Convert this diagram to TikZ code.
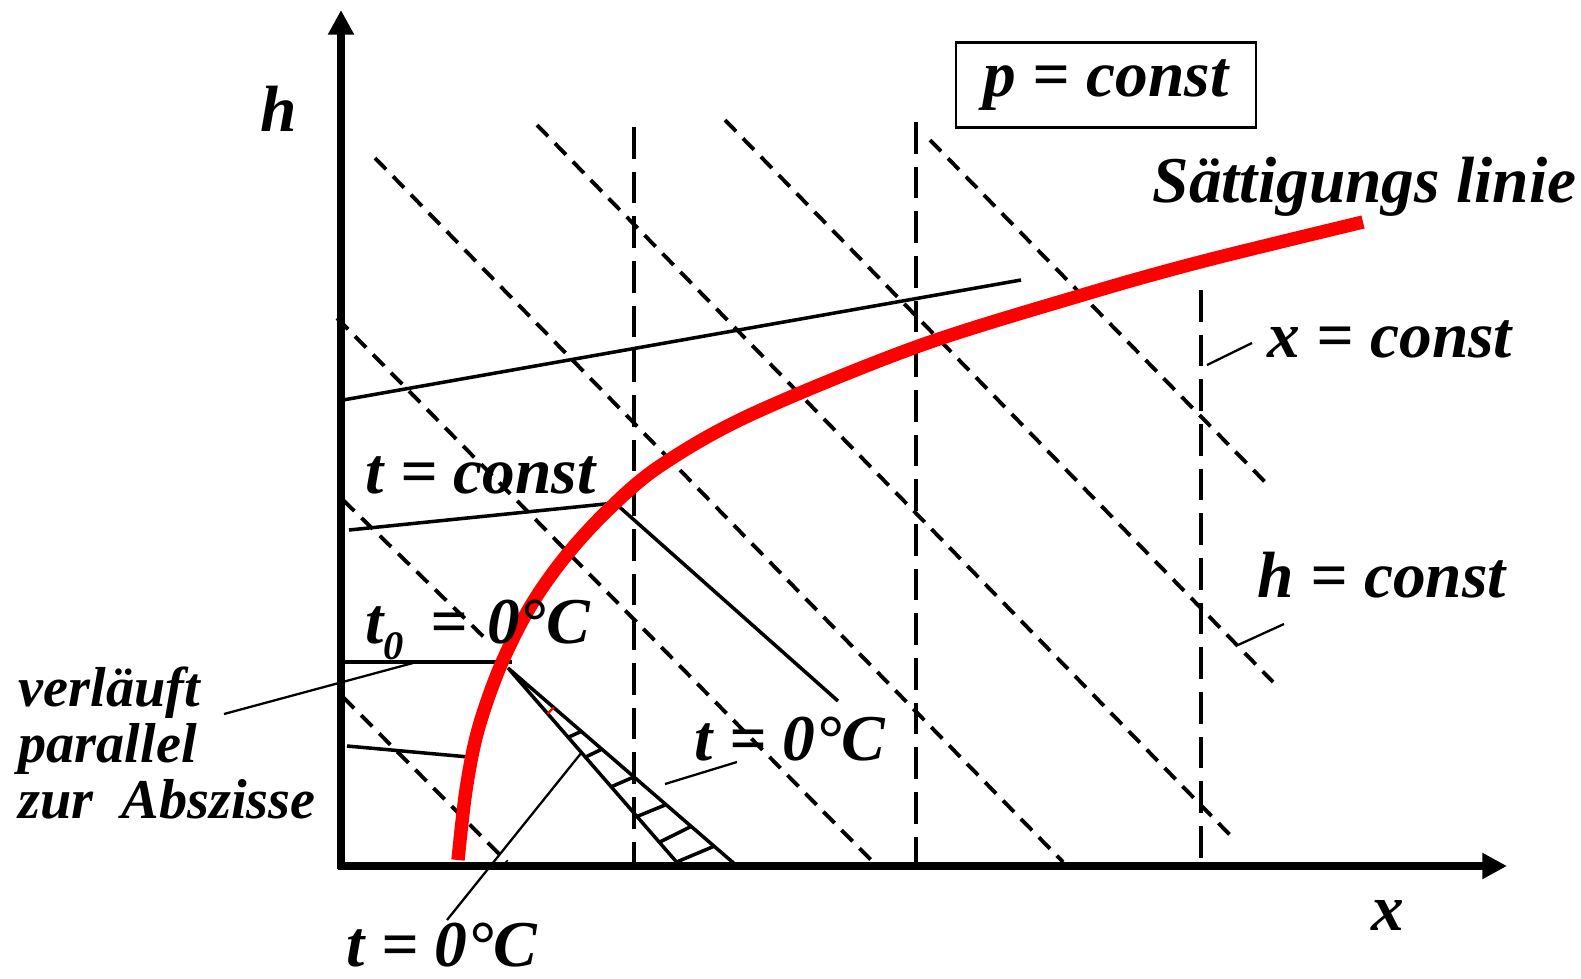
\documentclass[tikz,border=0pt]{standalone}
\usepackage{fontspec}
\setmainfont{Liberation Serif}
\usetikzlibrary{arrows.meta,calc}

\newcommand\lblfont{\fontsize{18.6}{22}\selectfont\bfseries\itshape}
\newcommand\notefont{\fontsize{16}{15.9}\selectfont\bfseries\itshape}

\begin{document}
\begin{tikzpicture}[
    x=0.01cm, y=-0.01cm,
    >={Triangle[length=7pt,width=7pt]},
    axis/.style={->, line width=2pt},
    sat/.style={red, line width=3.8pt},
    xconst/.style={line width=1.2pt, dash pattern=on 9pt off 3.7pt},
    hconst/.style={line width=1.1pt, dash pattern=on 4.5pt off 2.8pt},
    iso/.style={line width=1pt},
    lead/.style={line width=0.65pt},
    lbl/.style={font=\lblfont, inner sep=0pt, anchor=base west},
    note/.style={font=\notefont, inner sep=0pt, align=left, anchor=north west},
    pframe/.style={draw, line width=0.6pt, font=\lblfont, inner sep=0pt,
        minimum width=2.99cm, minimum height=0.85cm}
]
\useasboundingbox (0,0) rectangle (1581,978);

% Achsen
\draw[axis] (341,869) -- (341,10);
\draw[axis] (338,866) -- (1507,866);
\node[lbl] (hlab) at (260,131) {h};
\node[lbl] (xlab) at (1371,930) {x};

% x = const
\foreach \xv/\yt in {634/127, 916/122, 1201/290}
    \draw[xconst] (\xv,\yt) -- (\xv,866);

% h = const
\foreach \xa/\ya/\xb/\yb in {375/158/1063/862, 537/125/1232/837, 725/120/1273/682,
        930/140/1270/487, 337/318/873/862, 343/500/490/643, 343/697/507/862}
    \draw[hconst] (\xa,\ya) -- (\xb,\yb);

% Isothermen
\draw[iso] (343,400) -- (1021,280);
\draw[iso] (349,530) -- (615,503) -- (838,701);
\draw[iso] (337,662) -- (512,662);
\draw[iso] (347,746) -- (469,757);

% Keil t = 0 C mit Schraffur
\coordinate (apex) at (508,668);
\coordinate (wl) at (680,866);
\coordinate (wr) at (737,866);
\draw[iso] (wl) -- (apex) -- (wr);
\foreach \f/\g in {0.35/0.32, 0.45/0.41, 0.6/0.55, 0.75/0.69, 0.88/0.8, 0.98/0.9}
    \draw[iso] ($(apex)!\f!(wl)$) -- ($(apex)!\g!(wr)$);
\draw[lead, red] ($(apex)!0.23!(wl)$) -- ($(apex)!0.2!(wr)$);

% Saettigungslinie
\draw[sat] plot[smooth, tension=0.55] coordinates {(458,860) (466,790) (478,730)
    (500,667) (530,607) (565,557) (608,510) (660,466) (750,415) (916,347)
    (1079,296) (1200,262) (1363,222)};

% Beschriftungen
\node[pframe] (pbox) at (1106,85) {p = const};
\node[lbl] (satlab) at (1152,202) {Sättigungs linie};
\node[lbl] (xc) at (1267,357) {x = const};
\node[lbl] (hc) at (1257,597) {h = const};
\node[lbl] (tc) at (365,493) {t = const};
\node[lbl] (tnull) at (365,643)
    {t\raisebox{-4.6pt}{\fontsize{11.5}{12}\selectfont 0}\hspace{0.4em}=\hspace{0.3em}0°C};
\node[lbl] (tnr) at (694,760) {t = 0°C};
\node[lbl] (tnb) at (346,966) {t = 0°C};
\node[note] (par) at (18,666) {verläuft\\parallel\\zur\ \ Abszisse};

% Hinweislinien
\coordinate (xcA) at (1207,365);  \coordinate (xcB) at (1252,343);
\coordinate (hcA) at (1238,645);  \coordinate (hcB) at (1284,624);
\coordinate (trA) at (665,784);   \coordinate (trB) at (737,762);
\coordinate (tbA) at (447,920);   \coordinate (tbB) at (582,752);
\coordinate (paA) at (224,714);   \coordinate (paB) at (413,663);
\draw[lead] (xcA) -- (xcB);
\draw[lead] (hcA) -- (hcB);
\draw[lead] (trA) -- (trB);
\draw[lead] (tbA) -- (tbB);
\draw[lead] (paA) -- (paB);

\end{tikzpicture}
\end{document}
